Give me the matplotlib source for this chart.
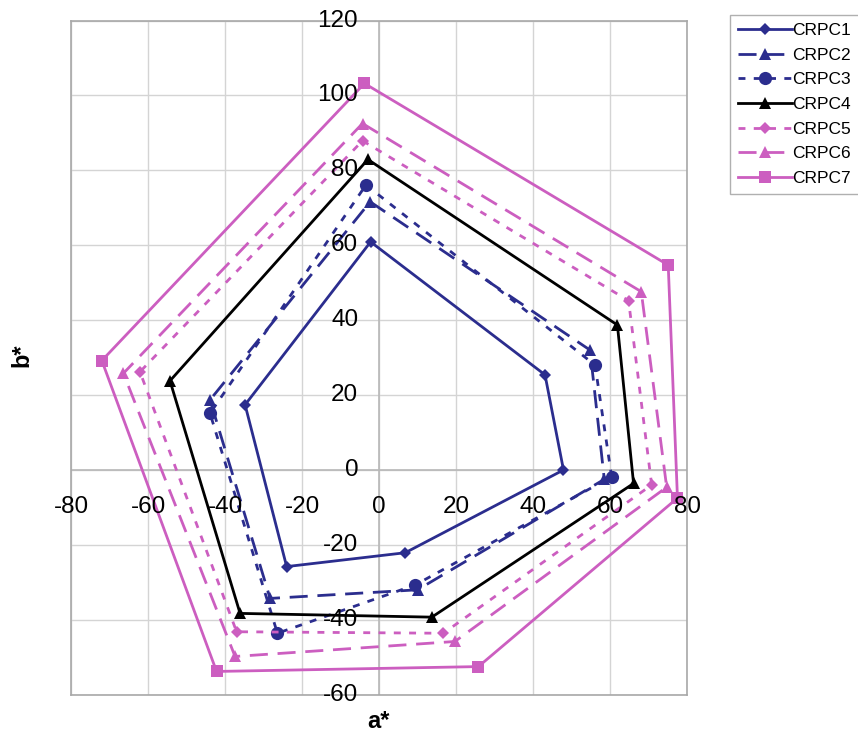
import numpy as np
import matplotlib
matplotlib.use("Agg")
import matplotlib.pyplot as plt

plt.rcParams['font.family'] = ['Liberation Sans', 'DejaVu Sans']

# a*, b* coordinates for each sample (hexagon, closed by repeating first point)
names = ["CRPC1", "CRPC2", "CRPC3", "CRPC4", "CRPC5", "CRPC6", "CRPC7"]
a_vals = [
    [-2.2, 43.1, 47.9, 6.8, -24.0, -34.8],
    [-2.3, 54.8, 58.5, 10.0, -28.3, -43.9],
    [-3.4, 56.1, 60.4, 9.4, -26.4, -43.9],
    [-2.9, 61.9, 66.1, 13.7, -36.1, -54.3],
    [-4.3, 64.8, 70.8, 16.7, -37.0, -62.1],
    [-4.3, 68.1, 74.7, 19.7, -37.4, -66.4],
    [-3.8, 75.1, 77.5, 25.8, -42.2, -72.0],
]
b_vals = [
    [60.9, 25.4, 0.0, -22.1, -25.8, 17.4],
    [71.6, 32.0, -2.5, -32.0, -34.3, 18.7],
    [76.1, 28.0, -1.8, -30.7, -43.6, 15.1],
    [82.9, 38.7, -3.6, -39.3, -38.3, 23.8],
    [87.9, 45.2, -4.0, -43.6, -43.2, 26.2],
    [92.5, 47.6, -4.6, -45.8, -49.8, 25.8],
    [103.2, 54.7, -7.5, -52.5, -53.8, 29.2],
]
x_ticks = [-80, -60, -40, -20, 0, 20, 40, 60, 80]
y_ticks = [-60, -40, -20, 0, 20, 40, 60, 80, 100, 120]

navy = "#2B2D8E"
pink = "#CC5EC0"
styles = [
    dict(color=navy, ls="-", marker="D", ms=6),
    dict(color=navy, ls=(0, (6.5, 3.5)), marker="^", ms=8),
    dict(color=navy, ls=(0, (2.5, 3)), marker="o", ms=9.5),
    dict(color="black", ls="-", marker="^", ms=8),
    dict(color=pink, ls=(0, (2.5, 3)), marker="D", ms=6.5),
    dict(color=pink, ls=(0, (6.5, 3.5)), marker="^", ms=8),
    dict(color=pink, ls="-", marker="s", ms=8.5),
]

fig = plt.figure(figsize=(8.58, 7.46), dpi=100)
ax = fig.add_axes([0.0828, 0.0688, 0.718, 0.9037])

ax.set_xlim(-80, 80)
ax.set_ylim(-60, 120)
ax.set_xticks(x_ticks)
ax.set_yticks(y_ticks)
ax.grid(True, color="#D4D4D4", lw=1)
ax.set_axisbelow(True)
ax.tick_params(length=0, labelbottom=False, labelleft=False)
for s in ax.spines.values():
    s.set_color("#A8A8A8")
    s.set_linewidth(1.2)
ax.axhline(0, color="#B8B8B8", lw=1.2, zorder=1)
ax.axvline(0, color="#B8B8B8", lw=1.2, zorder=1)

for name, a, b, st in zip(names, a_vals, b_vals, styles):
    a = list(a) + [a[0]]
    b = list(b) + [b[0]]
    ax.plot(a, b, color=st["color"], linestyle=st["ls"], lw=2,
            marker=st["marker"], markersize=st["ms"], markevery=list(range(6)),
            markeredgewidth=0, label=name, zorder=3)

# tick labels sit beside the axes crossing at the origin
for v in x_ticks:
    ax.annotate(str(v), xy=(v, 0), xytext=(0, -27), textcoords="offset points",
                ha="center", va="center", fontsize=17.5, annotation_clip=False)
for v in y_ticks:
    ax.annotate(str(v), xy=(0, v), xytext=(-15, 0), textcoords="offset points",
                ha="right", va="center", fontsize=17.5, annotation_clip=False)

fig.text(22 / 858, 1 - 355 / 746, "b*", rotation=90, ha="center", va="center",
         fontsize=17, fontweight="bold")
fig.text(378 / 858, 1 - 722 / 746, "a*", ha="center", va="center",
         fontsize=17, fontweight="bold")

leg = fig.legend(loc="upper left", bbox_to_anchor=(730 / 858, 1 - 15 / 746),
                 borderaxespad=0, fontsize=12.5, handlelength=3.1, handletextpad=0.05,
                 labelspacing=0.55, borderpad=0.45, fancybox=False, framealpha=1)
leg.get_frame().set_edgecolor("#B0B0B0")
leg.get_frame().set_linewidth(1)

fig.savefig("out.png", dpi=100)
